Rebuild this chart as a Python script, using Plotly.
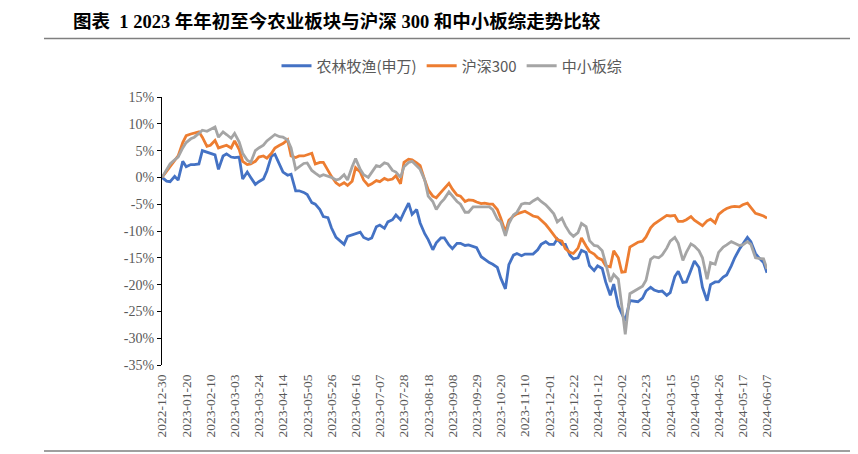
import pandas as pd
import plotly.graph_objects as go

# Friday closes (weekly) 2022-12-30 .. 2024-06-07
fri_dates = [d.strftime("%Y-%m-%d") for d in pd.date_range("2022-12-30", "2024-06-07", freq="7D")]

# mid-week closes
mid_dates = [
    "2023-01-03", "2023-01-10", "2023-01-17", "2023-01-24", "2023-01-31", "2023-02-07",
    "2023-02-14", "2023-02-21", "2023-02-28", "2023-03-07", "2023-03-14", "2023-03-21",
    "2023-03-28", "2023-04-04", "2023-04-11", "2023-04-18", "2023-04-25", "2023-05-02",
    "2023-05-09", "2023-05-16", "2023-05-23", "2023-05-30", "2023-06-06", "2023-06-13",
    "2023-06-20", "2023-06-27", "2023-07-04", "2023-07-11", "2023-07-18", "2023-07-25",
    "2023-08-01", "2023-08-08", "2023-08-15", "2023-08-22", "2023-08-29", "2023-09-05",
    "2023-09-12", "2023-09-19", "2023-09-26", "2023-10-03", "2023-10-10", "2023-10-17",
    "2023-10-24", "2023-10-31", "2023-11-07", "2023-11-14", "2023-11-21", "2023-11-28",
    "2023-12-05", "2023-12-12", "2023-12-19", "2023-12-26", "2024-01-02", "2024-01-09",
    "2024-01-16", "2024-01-23", "2024-01-30", "2024-02-05", "2024-02-20", "2024-02-27",
    "2024-03-05", "2024-03-12", "2024-03-19", "2024-03-26", "2024-04-02", "2024-04-09",
    "2024-04-16", "2024-04-23", "2024-04-30", "2024-05-07", "2024-05-14", "2024-05-21",
    "2024-05-28", "2024-06-04",
]

# 农林牧渔(申万), cumulative return %
agri_fri = [
    0.0, -0.8, -0.5, 2.0, 2.4, 5.0, 4.5, 1.5, 4.4, 3.7, -0.3, 0.0,
    -0.8, 1.2, 4.3, 1.0, 0.6, -2.5, -3.2, -5.0, -7.3, -9.4, -11.8, -11.0,
    -10.6, -11.2, -11.3, -8.9, -8.3, -7.0, -6.5, -6.9, -8.5, -11.6, -12.2, -11.3,
    -13.3, -12.3, -12.6, -13.1, -15.3, -16.2, -18.8, -16.3, -14.2, -14.3, -14.3, -12.5,
    -12.5, -11.5, -12.5, -15.2, -13.6, -16.5, -16.5, -19.5, -19.9, -25.5, -23.0, -23.2,
    -21.2, -21.0, -21.2, -21.5, -17.5, -19.5, -15.6, -20.5, -20.0, -19.5, -18.2, -15.0,
    -12.5, -12.0, -15.0, -17.8,
]
agri_mid = [
    -0.7, 0.2, 3.0, 2.4, 2.5, 4.7, 4.2, 4.0, 3.8, 3.8, 1.0, -1.3,
    -0.3, 4.0, 2.3, 0.4, -2.5, -2.8, -4.7, -6.0, -7.5, -11.2, -12.5, -10.7,
    -10.2, -11.6, -9.2, -9.5, -7.9, -7.9, -4.8, -6.0, -10.5, -13.5, -11.3, -12.6,
    -12.3, -12.7, -12.9, -14.8, -15.9, -16.8, -20.8, -14.5, -14.6, -14.3, -13.5, -12.0,
    -12.5, -12.5, -14.5, -15.0, -14.0, -17.4, -17.0, -22.0, -24.0, -26.8, -22.5, -20.5,
    -21.3, -22.0, -18.5, -19.6, -17.3, -16.8, -23.0, -19.5, -18.6, -16.5, -13.4, -11.2,
    -14.2, -15.9,
]

# 沪深300
hs300_fri = [
    0.0, 2.0, 4.0, 7.8, 8.3, 7.5, 6.0, 5.5, 6.0, 6.8, 3.0, 2.5,
    3.8, 3.6, 5.5, 6.3, 4.0, 4.0, 4.2, 2.5, 2.8, 0.2, -1.5, -1.5,
    1.8, -0.5, -1.2, -0.8, -0.5, 0.3, 2.8, 3.3, 2.2, -2.3, -3.8, -2.0,
    -2.2, -3.5, -4.2, -4.6, -4.8, -5.0, -7.6, -8.0, -6.8, -6.3, -7.2, -8.0,
    -9.6, -11.6, -13.3, -14.2, -11.3, -13.8, -15.0, -16.5, -13.7, -17.7, -13.0, -12.1,
    -11.1, -8.7, -7.8, -7.2, -8.2, -7.9, -8.0, -9.0, -7.8, -6.9, -5.8, -5.4,
    -5.1, -5.6, -6.9, -7.6,
]
hs300_mid = [
    1.2, 3.2, 6.5, 8.1, 8.5, 5.8, 6.9, 5.8, 5.5, 5.2, 2.4, 3.0,
    4.0, 4.5, 6.0, 7.0, 3.7, 4.0, 4.5, 2.8, 1.2, -1.0, -1.0, -0.7,
    1.0, -1.5, -0.6, -0.2, -0.3, -1.2, 3.4, 2.7, -0.5, -3.5, -2.8, -1.1,
    -3.3, -4.5, -4.3, -4.9, -5.0, -6.0, -10.2, -7.2, -6.5, -6.8, -7.4, -8.8,
    -10.8, -11.9, -14.0, -13.2, -12.8, -14.3, -15.4, -16.7, -15.0, -17.6, -11.9, -9.4,
    -8.1, -7.1, -7.1, -8.2, -7.3, -8.6, -8.1, -8.5, -6.2, -5.5, -5.5, -4.8,
    -6.7, -7.2,
]

# 中小板综
sme_fri = [
    0.0, 2.5, 3.8, 6.5, 7.5, 8.8, 9.0, 7.5, 8.0, 8.2, 4.5, 2.8,
    5.5, 6.8, 8.0, 7.5, 5.5, 2.0, 2.7, 0.8, 0.5, 0.0, -0.3, -0.5,
    3.5, 0.5, 1.0, 2.0, 2.5, 1.0, 2.0, 3.0, 1.5, -3.5, -6.0, -4.0,
    -3.5, -5.0, -6.5, -5.5, -5.5, -6.0, -8.3, -8.6, -6.5, -4.8, -4.4, -4.5,
    -5.8, -8.3, -9.0, -11.0, -8.6, -11.8, -12.8, -16.0, -18.1, -24.0, -21.7, -20.8,
    -19.2, -14.8, -14.5, -11.9, -12.3, -14.0, -12.8, -15.0, -15.9, -14.0, -12.6, -12.3,
    -12.6, -12.5, -15.1, -17.1,
]
sme_mid = [
    1.5, 3.3, 5.5, 7.2, 8.2, 8.6, 9.4, 8.5, 7.3, 6.6, 3.2, 5.0,
    6.0, 7.4, 7.6, 7.0, 1.5, 2.6, 1.3, 0.2, 0.2, -0.5, 0.5, 2.0,
    1.5, 0.0, 2.2, 2.7, 1.3, 0.0, 2.8, 2.2, -0.5, -4.5, -4.7, -2.7,
    -4.5, -6.5, -5.5, -5.5, -5.5, -7.8, -10.9, -7.0, -5.0, -4.9, -3.9, -5.1,
    -6.8, -7.6, -10.4, -10.3, -9.2, -12.7, -13.7, -19.5, -19.0, -29.3, -20.3, -15.3,
    -15.0, -13.2, -11.2, -15.5, -12.4, -13.7, -19.0, -16.2, -13.0, -12.0, -12.7, -12.0,
    -15.0, -15.2,
]

series_names = ["农林牧渔(申万)", "沪深300", "中小板综"]
series_colors = ["#4472C4", "#ED7D31", "#A5A5A5"]
y_ticks = [15, 10, 5, 0, -5, -10, -15, -20, -25, -30, -35]
y_tick_text = [f"{v}%" for v in y_ticks]

title_text = "图表  1 2023 年年初至今农业板块与沪深 300 和中小板综走势比较"

df = pd.concat([
    pd.DataFrame({"date": fri_dates, "agri": agri_fri, "hs300": hs300_fri, "sme": sme_fri}),
    pd.DataFrame({"date": mid_dates, "agri": agri_mid, "hs300": hs300_mid, "sme": sme_mid}),
])
df["date"] = pd.to_datetime(df["date"])
df = df.sort_values("date").reset_index(drop=True)

SERIF = "Liberation Serif, Noto Sans CJK SC, serif"
CJK = "Noto Sans CJK SC, sans-serif"
TICK_COLOR = "#595959"

fig = go.Figure()
for name, col_key, col in zip(series_names, ["agri", "hs300", "sme"], series_colors):
    fig.add_trace(go.Scatter(
        x=df["date"], y=df[col_key], name=name, mode="lines",
        line=dict(color=col, width=2.8),
    ))

y_min, y_max = -35, 15
zero_pos = (0 - y_min) / (y_max - y_min)
DAY_MS = 86400000
x_start, x_end = fri_dates[0], fri_dates[-1]

# the page body adds an 8px offset; the figure is sized to compensate
W, H = 850, 446
PL, PT, PW, PH = 154, 89, 605, 268

fig.update_layout(
    width=W, height=H,
    margin=dict(l=PL, r=W - PL - PW, t=PT, b=H - PT - PH, autoexpand=False),
    paper_bgcolor="white", plot_bgcolor="white",
    title=dict(
        text=f"<b>{title_text}</b>",
        x=65 / W, xanchor="left", xref="container",
        y=1 - 14 / H, yanchor="middle", yref="container",
        font=dict(family=SERIF, size=18.5, color="black"),
    ),
    showlegend=True,
    legend=dict(
        orientation="h", x=444 / W, xanchor="center", xref="container",
        y=1 - 58 / H, yanchor="middle", yref="container",
        font=dict(family=CJK, size=15, color=TICK_COLOR),
        itemwidth=30, tracegroupgap=0, bgcolor="rgba(0,0,0,0)",
    ),
    xaxis=dict(
        type="date", range=[x_start, x_end],
        tick0=x_start, dtick=21 * DAY_MS, tickformat="%Y-%m-%d",
        tickangle=-90, showgrid=False, zeroline=False, showline=False,
        ticks="outside", ticklen=3, tickcolor="rgba(0,0,0,0)",
        tickfont=dict(family=SERIF, size=13.5, color=TICK_COLOR),
    ),
    xaxis2=dict(
        type="date", overlaying="x", matches="x", anchor="free", position=zero_pos,
        range=[x_start, x_end], tick0=x_start, dtick=21 * DAY_MS,
        showticklabels=False, showgrid=False, zeroline=False,
        showline=True, linecolor="black", linewidth=1.3,
        ticks="outside", ticklen=5, tickcolor="black", tickwidth=1.3,
    ),
    yaxis=dict(
        range=[y_min, y_max], tickvals=y_ticks, ticktext=y_tick_text,
        showgrid=False, zeroline=False, showline=True, linecolor="black", linewidth=1.3,
        ticks="outside", ticklen=4, tickcolor="black", tickwidth=1.3,
        tickfont=dict(family=SERIF, size=14, color=TICK_COLOR),
    ),
    shapes=[
        dict(type="line", xref="paper", yref="paper",
             x0=(44 - 162) / PW, x1=(853 - 162) / PW,
             y0=(365 - 38.5) / PH, y1=(365 - 38.5) / PH,
             line=dict(color="#7F7F7F", width=1.5)),
        dict(type="line", xref="paper", yref="paper",
             x0=(44 - 162) / PW, x1=(853 - 162) / PW,
             y0=(365 - 451) / PH, y1=(365 - 451) / PH,
             line=dict(color="#7F7F7F", width=1.5)),
    ],
)

fig.write_html("out.html")
